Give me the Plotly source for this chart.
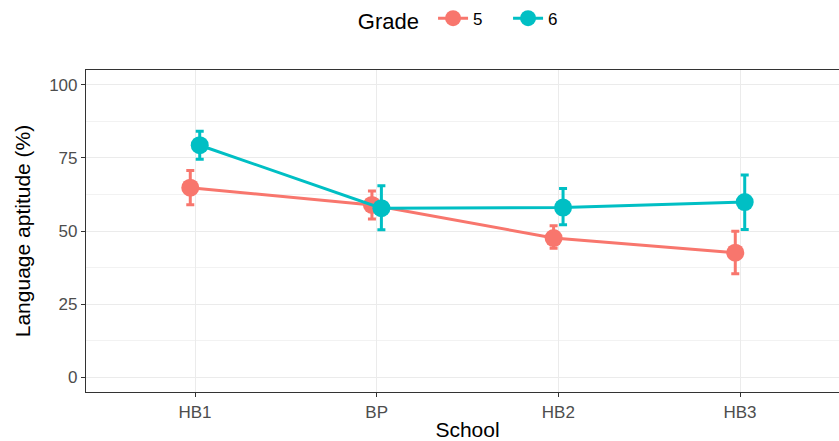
import plotly.graph_objects as go

schools = ["HB1", "BP", "HB2", "HB3"]
grades = ["5", "6"]

grade5_mean = [64.8, 58.9, 47.6, 42.6]
grade5_upper = [70.7, 63.7, 51.8, 49.9]
grade5_lower = [59.0, 54.1, 44.1, 35.4]

grade6_mean = [79.3, 57.8, 58.0, 59.9]
grade6_upper = [84.1, 65.5, 64.5, 69.1]
grade6_lower = [74.5, 50.4, 52.1, 50.5]

colors = {"5": "#F8766D", "6": "#00BFC4"}
dodge = {"5": -0.026, "6": 0.026}

series = {
    "5": (grade5_mean, grade5_upper, grade5_lower),
    "6": (grade6_mean, grade6_upper, grade6_lower),
}

fig = go.Figure()
for g in grades:
    mean, upper, lower = series[g]
    xs = [i + dodge[g] for i in range(len(schools))]
    fig.add_trace(go.Scatter(
        x=xs, y=mean, name=g, mode="lines+markers",
        line=dict(color=colors[g], width=3),
        marker=dict(color=colors[g], size=18),
        error_y=dict(type="data", symmetric=False,
                     array=[u - m for u, m in zip(upper, mean)],
                     arrayminus=[m - l for m, l in zip(mean, lower)],
                     color=colors[g], thickness=3, width=4),
    ))

# the panel runs past the right edge of the window, as in the reference
fig.update_layout(
    width=849, height=441,
    margin=dict(l=86, r=0, t=70, b=49),
    plot_bgcolor="white", paper_bgcolor="white",
    font=dict(family="Liberation Sans, Arial", size=16, color="black"),
    legend=dict(orientation="h", x=0.503, xanchor="center",
                y=1.155, yanchor="middle",
                entrywidth=30, entrywidthmode="pixels",
                title=dict(text="Grade ", font=dict(size=22), side="left"),
                font=dict(size=17)),
    xaxis=dict(
        range=[-0.6, 3.6], tickvals=list(range(len(schools))), ticktext=schools,
        showgrid=True, gridcolor="#EBEBEB", gridwidth=1.2, zeroline=False,
        showline=True, linecolor="#333333", linewidth=1.2, mirror=True,
        ticks="outside", ticklen=4, tickcolor="#333333", tickwidth=1.2,
        tickfont=dict(size=17, color="#4D4D4D"), automargin=False,
        title=dict(text="School", font=dict(size=21), standoff=8),
    ),
    yaxis=dict(
        range=[-5, 105], tickvals=[0, 25, 50, 75, 100],
        showgrid=True, gridcolor="#EBEBEB", gridwidth=1.2, zeroline=False,
        minor=dict(tickvals=[12.5, 37.5, 62.5, 87.5], showgrid=True,
                   gridcolor="#F2F2F2", gridwidth=0.6),
        showline=True, linecolor="#333333", linewidth=1.2, mirror=False,
        ticks="outside", ticklen=4, tickcolor="#333333", tickwidth=1.2,
        tickfont=dict(size=17, color="#4D4D4D"), automargin=False,
        title=dict(text="Language aptitude (%)", font=dict(size=21), standoff=12),
    ),
)

fig.write_html("out.html", config={"displayModeBar": False},
               post_script="document.body.style.margin='0';"
                           "document.body.style.overflow='hidden';"
                           "document.documentElement.style.overflow='hidden';")
